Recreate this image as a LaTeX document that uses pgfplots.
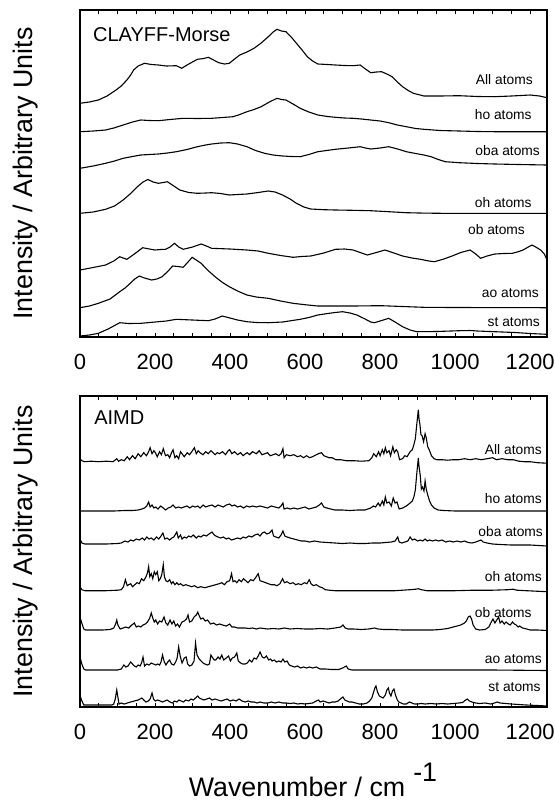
\documentclass[border=0pt]{standalone}
\usepackage{pgfplots}
\pgfplotsset{compat=1.18}
\usepackage{fontspec}
\setmainfont{Liberation Sans}
\begin{document}
\begin{tikzpicture}
\path[use as bounding box] (0,0) rectangle (277pt,-402pt);
\pgfplotsset{panel/.style={scale only axis, width=233.5pt, xmin=0, xmax=1245, ymin=0,
  xtick={0,200,...,1200}, minor x tick num=3, ytick=\empty,
  tick align=inside, major tick length=2pt, minor tick length=2pt,
  tick style={black, line width=0.5pt}, axis line style={line width=0.6pt},
  ticklabel style={font=\fontsize{11}{13}\selectfont},
  xticklabel style={yshift=-5pt},
  /pgf/number format/assume math mode=true,
  /pgf/number format/1000 sep={},
  cycle list={{black, solid, line width=0.55pt}},
  every axis plot post/.append style={black, solid, line width=0.55pt, mark=none}}}
\tikzset{lab/.style={anchor=east, font=\fontsize{6.9}{8}\selectfont, inner sep=0pt},
  ttl/.style={anchor=west, font=\fontsize{10}{12}\selectfont, inner sep=0pt}}
% ---------------- top panel ----------------
\begin{axis}[panel, height=163.5pt, ymax=327, at={(40pt,-5pt)}, anchor=north west]
% All atoms
\addplot table {
0 233.7
25 235
49 237
72 241
96 247
110 251
125 257
135 262
143 267
155 271
172 273.7
190 272.5
209 272
230 271
257 271.3
271 268.7
290 273
313 277.7
330 278.5
342 279.7
356 277
370 274.3
385 273
398 273.7
412 278
426 282
445 285
464 288.7
483 294
502 300.3
515 305
525 307.7
537 306
549 305.3
563 300
577 293.7
592 287
606 280.3
620 276
634 273
660 272.5
681 272
705 271.5
728 271.3
747 272
761 268
775 264.3
790 265
804 265.3
818 263
832 260.3
846 255
860 250.3
875 246.5
889 243.7
917 241
960 241
1011 241.3
1060 240.5
1106 240.3
1150 241
1200 242
1225 241
1245 239.3
};
% ho
\addplot table {
0 205.3
35 206
68 207
90 209
115 212
140 215
162 217
185 216.5
209 216.3
240 217.5
275 218.7
313 218.5
351 218.7
380 219.5
408 220.3
426 222.5
445 225.3
464 227.5
483 230.3
505 235
525 238.7
537 237.5
549 237
568 233
587 228.7
610 225
634 222
660 220.5
681 219.7
705 219
728 218.7
750 218
775 217
800 216
823 214.3
846 212
870 210.3
895 208.5
917 207.7
960 206.5
1011 206
1060 205.5
1106 205.3
1245 205.3
};
% oba
\addplot table {
0 168.7
35 171
68 173.7
92 176
115 178.7
140 180.5
162 182
185 182.5
209 183
233 184
257 185.3
285 187.5
313 190.3
335 192
351 193
375 194
398 194.3
420 193
445 190.3
468 186.5
492 183.7
515 182
540 181
563 180.5
587 180.3
610 182.5
634 185.3
657 186.5
681 187.7
715 189
747 190.3
761 189
775 188
800 189
823 190.3
847 188
870 185.3
895 183.5
917 182
936 180.3
955 177.5
974 175.3
1011 174.3
1060 173.5
1106 173
1170 172.5
1245 172
};
% oh
\addplot table {
0 123.7
35 125
68 127.7
92 131
115 137
135 143.5
153 150.3
168 155
181 157.5
195 155
209 153.7
222 154.5
233 155.3
250 151
266 147
290 144.5
313 143.7
335 144
351 144.3
375 143.5
398 142
420 142.5
445 143
475 144.5
502 146
520 145
540 142
560 138
577 133.7
597 130
615 128
650 127.3
681 127
728 126.7
775 126.3
823 125.3
870 124.3
917 123.9
964 123.7
1245 123.7
};
% ob
\addplot table {
0 67
35 69.5
68 72
90 76
106 80.3
115 79
125 77.7
145 83
167 89.3
185 88
200 87
215 87.5
228 87.7
240 90
252 93.7
263 90
275 87.7
300 90
323 93
337 91
351 88.7
400 88
445 87
475 86
502 83.7
535 81.5
568 79.7
590 80.5
615 81
650 84
681 87.7
705 88
728 87
747 84.5
766 82
790 84.5
813 87
837 84
860 81
885 79
908 77.7
930 76
945 75.3
970 78
992 81
1015 84.5
1040 87
1055 83
1068 78.7
1085 81
1106 83
1130 83.5
1153 83.7
1170 85.5
1181 87
1195 90
1205 92
1215 90
1228 87
1238 83
1245 77
};
% ao
\addplot table {
0 29.3
25 31
49 33.7
80 38
106 45.3
120 49
134 53.7
146 58
158 61
172 59
191 57
205 58
219 60.3
235 66
247 71
262 70.5
275 69.7
288 75
299 79.7
310 77
323 73.7
340 67
360 60.3
380 54.5
398 50.3
420 46
445 42
470 40
502 38.7
535 36
568 33.7
600 32.3
634 31
680 31
728 31
770 31.2
804 31.3
860 30.5
917 29.7
1000 29.5
1245 29.3
};
% st
\addplot table {
0 1
25 2
49 3.7
75 8
106 14.3
130 13.5
162 13.7
200 15
230 16
257 17.7
300 17
342 16.3
360 18
379 21
400 19
420 17
445 15.3
470 14.5
502 14.3
540 15
587 17.7
610 19.5
634 22
660 23.5
680 24.5
700 25.3
720 24
738 22
760 18
775 15
785 14.3
800 16
823 18.7
840 15
860 10.3
880 7
898 5.3
950 5.5
1011 6.3
1040 6.5
1060 6
1106 5.3
1160 4.5
1200 3.5
1245 2.7
};
\node[ttl] at (axis cs:34,302.5) {CLAYFF-Morse};
\node[lab] at (axis cs:1208,257) {All atoms};
\node[lab] at (axis cs:1205,222.7) {ho atoms};
\node[lab] at (axis cs:1227,186.3) {oba atoms};
\node[lab] at (axis cs:1205,134.7) {oh atoms};
\node[lab] at (axis cs:1187,107.7) {ob atoms};
\node[lab] at (axis cs:1224,43.7) {ao atoms};
\node[lab] at (axis cs:1227,15.3) {st atoms};
\end{axis}
% ---------------- bottom panel ----------------
\begin{axis}[panel, height=155.5pt, ymax=311, at={(40pt,-198pt)}, anchor=north west]
% All atoms
\addplot table[y expr=\thisrowno{1}+245.3] {
0 3
5 1
12 0
30 0.5
50 0
70 0.5
88 0
98 3
103 0.5
110 2
118 1
126 5
132 2
140 6
147 3
155 8
162 5
170 9
177 6
183 10
187 14
192 8
197 11
201 9
206 5
212 10
217 7
222 13
228 6
234 7
239 4
244 9
248 12
253 4
258 6
263 3
268 10
272 8
278 5
286 9
292 7
298 10
305 14
310 8
315 11
320 9
328 7
335 10
342 8
349 11
352 10
360 7
366 9
372 8
380 10
388 7
395 11
399 12
405 8
412 10
420 7
428 9
435 6
441 8
446 9
452 7
460 10
470 8
478 11
485 7
493 8
500 9
507 6
515 7
522 8
530 6
536 8
541 13
544 4
550 7
560 6
570 7
580 5
588 6
596 4
604 6
612 4
620 5
630 7
636 8
644 9
650 6
657 5
664 4
672 4
682 2
695 2
710 1
730 1
750 0.5
770 1
778 4
783 8
790 5
796 10
800 6
806 12
810 8
814 14
818 9
824 11
828 6
834 15
838 9
843 12
847 10
852 2
860 3
866 6
872 5
880 10
886 12
890 17
894 23
898 38
902 52
904 42
906 38
909 27
912 26
916 20
920 28
923 24
927 15
932 11
937 6
944 3
951 2
965 2
980 1.5
995 2
1010 2
1025 3
1040 2
1055 3
1070 2
1085 3
1100 4
1110 2
1125 3
1140 2
1155 2
1170 0.5
1185 0
1200 0
1220 -1
1245 -1.5
};
% ho
\addplot table[y expr=\thisrowno{1}+196] {
0 0
30 0
60 0
90 0
120 0.5
140 0.5
155 1
165 2
172 3
178 5
183 9
187 4
192 6
197 3
202 4
208 2
215 5
222 3
228 1
235 3
242 4
248 6
255 3
262 4
270 3
277 4
285 5
293 3
300 5
307 4
314 5
320 3
328 6
335 4
342 5
352 6
360 4
368 6
375 5
382 4
390 6
399 7
405 5
412 6
420 4
428 5
436 3
444 5
452 4
460 5
470 4
480 5
490 4
500 3
510 5
520 4
530 3
536 5
541 8
544 2
552 3
560 2
570 3
580 2
590 3
600 4
610 2
620 3
630 4
638 6
644 8
650 4
658 3
668 2
680 1
700 1
720 0.5
740 1
760 1
775 3
782 5
788 4
795 8
800 5
806 10
810 6
814 14
818 8
824 9
830 5
835 13
840 8
845 9
851 2
860 3
870 5
880 8
886 10
890 14
894 21
898 38
902 53
904 44
907 36
910 22
913 24
917 20
920 30
923 22
927 16
932 10
937 6
944 3
955 1
970 0.5
1000 0
1245 0
};
% oba
\addplot table[y expr=\thisrowno{1}+163] {
0 5
5 1
13 0
40 0
70 0
100 0.5
110 1
120 3
128 2
135 4
142 3
150 5
158 4
166 6
172 4
178 7
184 5
190 6
197 4
204 7
210 5
216 8
221 11
226 5
232 6
239 4
245 6
250 7
255 10
258 12
262 6
268 9
272 5
278 7
284 6
290 8
296 7
302 9
310 6
316 8
322 7
330 9
337 8
344 10
352 12
358 9
362 8
368 7
375 6
382 7
390 5
396 6
404 4
412 5
420 6
428 5
435 7
442 6
450 8
458 7
466 9
474 10
480 8
486 11
492 12
498 10
505 11
512 14
516 8
522 7
530 6
536 9
541 13
546 8
552 7
560 6
570 5
580 4
590 3
600 3
612 2
625 3
640 2
660 1.5
680 1
700 0.5
720 1
740 0.5
760 0.5
780 1
800 1
815 1.5
830 2
840 3
847 7
851 2
858 1
866 2
874 3
880 7
886 4
892 5
900 3
907 4
914 3
920 5
926 3
932 4
940 3
948 4
956 3
965 4
975 2
985 3
995 2
1005 3
1015 2
1025 3
1035 1.5
1045 1
1055 2
1062 3
1069 4
1075 2
1085 1
1100 0
1120 -0.5
1150 -1
1200 -1
1245 -2
};
% oh
\addplot table[y expr=\thisrowno{1}+116.3] {
0 4
5 1
13 0
40 0
70 0
100 0.5
110 1
116 4
121 11
126 5
130 6
135 7
140 4
146 6
152 8
158 7
164 12
170 10
176 14
180 18
183 24
186 14
190 17
194 12
198 19
202 16
206 19
210 10
214 12
218 16
222 26
225 14
229 10
234 9
239 11
244 7
248 9
253 6
258 8
263 6
268 7
275 5
282 6
290 5
298 4
305 5
314 3
322 4
333 3
342 4
352 5
362 6
371 7
378 8
385 6
392 9
399 10
404 17
408 9
413 10
418 8
424 11
430 9
436 12
442 10
448 8
455 11
462 10
468 13
475 17
480 10
488 9
495 8
502 7
510 6
518 6
525 5
533 7
540 12
545 8
552 9
560 7
568 8
575 6
582 7
590 6
598 8
605 7
611 11
616 7
622 5
630 6
638 4
646 3
654 1
665 0.5
680 0
700 0
750 0
800 0
840 0
860 0.5
880 1
895 1.5
902 2
910 1
925 0
950 0
1000 0
1050 0.5
1100 0.5
1140 1
1154 1.5
1165 0.5
1190 0
1245 -1
};
% ob
\addplot table[y expr=\thisrowno{1}+77] {
0 13
4 8
10 1
15 0
40 0
60 0
80 0.5
90 2
95 6
98 10
101 5
107 1
115 2
122 3
130 2
138 5
145 7
150 3
156 4
162 3
168 5
174 6
180 8
186 12
190 17
194 12
198 8
202 10
207 6
212 9
218 8
224 13
229 7
234 5
240 10
245 6
250 9
255 4
260 6
265 3
272 8
278 9
284 11
288 15
292 8
298 9
304 13
310 15
314 18
318 14
322 11
328 12
334 9
340 10
348 6
356 7
364 5
372 6
380 5
390 4
399 6
405 3
412 3
420 2
430 2
440 2
450 1.5
460 2
470 1
480 2
490 1.5
500 1
515 1.5
530 1
545 2
560 1
580 1.5
600 1
620 1
640 1.5
660 1
680 2
695 3
701 5
707 2
715 1
730 1
750 0.5
770 1
785 2
795 1
810 0.5
830 0.5
860 0
900 0
940 0
960 0.5
980 1.5
995 3
1005 4
1015 5
1025 7
1030 9
1035 13
1040 14
1044 11
1048 5
1055 1
1065 0
1080 0.5
1090 3
1095 7
1101 11
1106 7
1111 10
1116 13
1120 7
1125 9
1131 6
1136 8
1142 6
1147 5
1153 8
1158 6
1163 5
1168 3
1172 4
1180 2
1191 1
1200 0
1220 0
1245 -0.5
};
% ao
\addplot table[y expr=\thisrowno{1}+37] {
0 13
4 7
10 1
15 0
50 0
80 0
100 0
110 1
117 5
122 3
128 4
135 8
140 6
145 4
150 3
155 5
160 4
164 7
168 13
172 4
178 6
184 5
190 7
196 6
202 5
207 6
212 5
216 8
220 15
224 9
229 5
234 8
239 10
244 6
250 5
255 8
259 12
263 23
267 14
272 7
278 12
283 13
287 6
292 4
298 5
304 9
308 27
312 15
318 11
323 9
328 7
333 6
340 5
345 6
349 15
354 12
358 10
362 10
368 13
373 11
378 15
383 10
390 12
396 14
401 9
406 12
412 13
418 17
422 9
428 7
434 6
440 6
446 7
452 10
458 8
464 12
470 11
475 14
480 18
486 13
491 12
497 14
503 10
508 11
512 9
518 10
524 8
530 9
536 8
541 11
546 8
552 9
558 5
564 4
572 3
580 4
588 2
596 3
604 2
612 3
620 2
630 3
640 1
655 1
670 0.5
690 0.5
700 2
705 3
710 4
715 1
725 0
760 0
800 0
900 0
1000 0
1100 0
1245 -0.5
};
% st
\addplot table[y expr=\thisrowno{1}+2] {
0 10
4 5
10 0
20 0
50 0
70 0
85 0
90 1
94 6
98 15
101 8
104 1
110 2
118 1
126 2
135 3
145 4
155 5
160 6
165 7
170 5
176 3
182 4
187 6
192 12
196 6
201 4
207 5
214 4
220 3
226 4
232 5
240 3
246 2
252 4
258 3
264 5
270 4
276 3
282 5
290 4
296 6
302 5
308 7
314 9
318 7
324 6
330 5
338 6
345 7
352 5
360 6
368 5
376 4
384 5
392 6
400 4
408 5
416 4
424 6
432 4
440 3
448 4
456 3
464 3
472 2
480 3
490 2
500 2
510 3
520 2
530 3
540 2
550 2
560 1.5
570 2
580 1
590 1.5
600 1
610 1.5
620 2
630 4
636 5
640 3
648 4
656 3
664 2
672 3
680 3
688 4
694 6
701 8
706 5
712 4
718 3
725 3
735 2
745 1
755 1
765 2
772 4
778 7
782 12
786 17
789 19
793 13
798 9
803 8
808 7
814 10
818 15
822 17
825 12
829 9
833 14
837 16
841 10
846 5
850 3
856 2
862 1
870 1
878 3
885 2
892 1
900 1
910 1.5
920 1
935 1.5
950 1
965 1.5
980 1
995 1.5
1010 2
1020 2.5
1028 5
1033 6
1038 4
1045 3
1055 2
1065 1.5
1080 2
1095 1
1105 2
1112 3
1120 2
1135 1.5
1150 1
1170 0.5
1190 0
1220 -0.5
1245 -1
};
\node[ttl] at (axis cs:37,289) {AIMD};
\node[lab] at (axis cs:1232,257.7) {All atoms};
\node[lab] at (axis cs:1232,208.7) {ho atoms};
\node[lab] at (axis cs:1235,175.3) {oba atoms};
\node[lab] at (axis cs:1232,130.3) {oh atoms};
\node[lab] at (axis cs:1205,94.7) {ob atoms};
\node[lab] at (axis cs:1232,48) {ao atoms};
\node[lab] at (axis cs:1229,19.7) {st atoms};
\end{axis}
% ---------------- axis titles ----------------
\node[rotate=90, font=\fontsize{13.4}{15}\selectfont] at (13pt,-86.75pt) {Intensity / Arbitrary Units};
\node[rotate=90, font=\fontsize{13.4}{15}\selectfont] at (13pt,-275.75pt) {Intensity / Arbitrary Units};
\node[anchor=base, font=\fontsize{13.4}{15}\selectfont, inner sep=0pt] at (156.5pt,-398pt) {Wavenumber / cm\hspace{4pt}\raisebox{7.5pt}{-1}};
\end{tikzpicture}
\end{document}
